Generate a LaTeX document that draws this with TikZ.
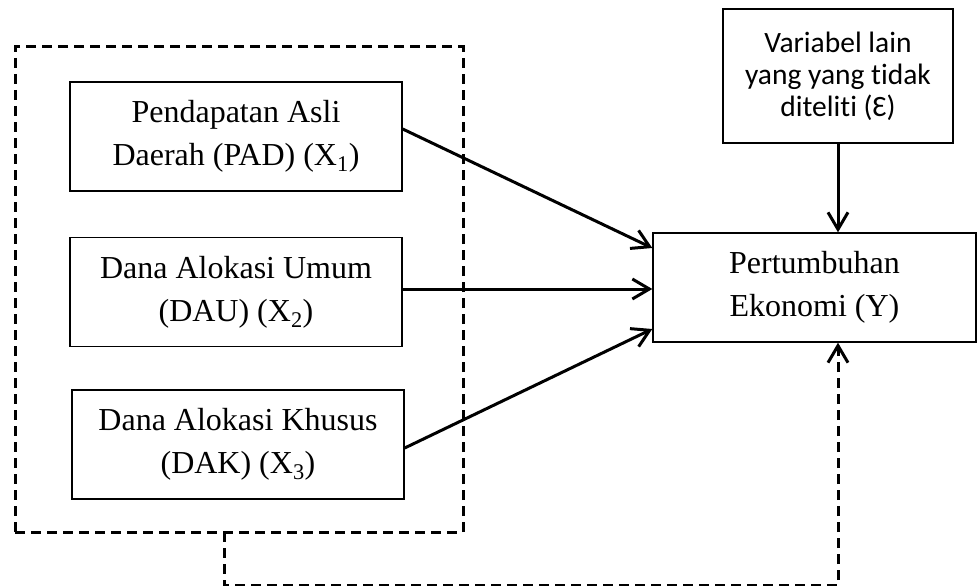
\documentclass[tikz,border=0pt]{standalone}
\usepackage{fontspec}
\setmainfont{Liberation Serif}
\newfontfamily\calibri[Ligatures=NoCommon]{Carlito}
\usetikzlibrary{arrows.meta,positioning}

\begin{document}
\begin{tikzpicture}[x=1pt,y=-1pt,on grid,
    varbox/.style={draw,line width=1.4pt,minimum width=332pt,minimum height=109pt,
      inner sep=0pt,align=center,font=\fontsize{32}{43}\selectfont},
    errbox/.style={draw,line width=1.4pt,minimum width=230pt,minimum height=134pt,
      inner sep=0pt,align=center,font=\calibri\fontsize{29.5}{32}\selectfont},
    link/.style={line width=3pt,-{Straight Barb[length=17pt,width=20pt]}},
    group/.style={draw,dash pattern=on 10pt off 6pt,line width=3pt}]
  \useasboundingbox (0,0) rectangle (978,586);
  % independent variables
  \node [group,minimum width=448pt,minimum height=485pt] (grp) at (239,289.5) {};
  \node [varbox] (x_1) at (236,136.5) {Pendapatan Asli\\Daerah (PAD) (X\textsubscript{1})};
  \node [varbox, below=155.5pt of x_1] (x_2) {Dana Alokasi Umum\\(DAU) (X\textsubscript{2})};
  \node [varbox, below=152.5pt of x_2, xshift=2pt] (x_3) {Dana Alokasi Khusus\\(DAK) (X\textsubscript{3})};
  % dependent variable
  \node [varbox,minimum width=323pt] (y) at (814.5,287.5) {Pertumbuhan\\Ekonomi (Y)};
  \node [errbox] (e) at (838,76) {Variabel lain\\yang yang tidak\\diteliti (Ɛ)};
  \coordinate (c_1) at (224,532);
  \coordinate (c_2) at (838,585);
  % links
  \draw [link] ([yshift=7.5pt]x_1.east) -- ([yshift=39.5pt]y.west);
  \draw [link] ([yshift=3pt]x_2.east) -- ([yshift=3pt]x_2.east -| y.west);
  \draw [link] ([yshift=-3.5pt]x_3.east) -- ([yshift=-41.5pt]y.west);
  \draw [link] (e) -- (e |- y.north);
  \draw [link,dash pattern=on 10pt off 6pt] (c_1) |- (c_2) -- (c_2 |- y.south);
\end{tikzpicture}
\end{document}
